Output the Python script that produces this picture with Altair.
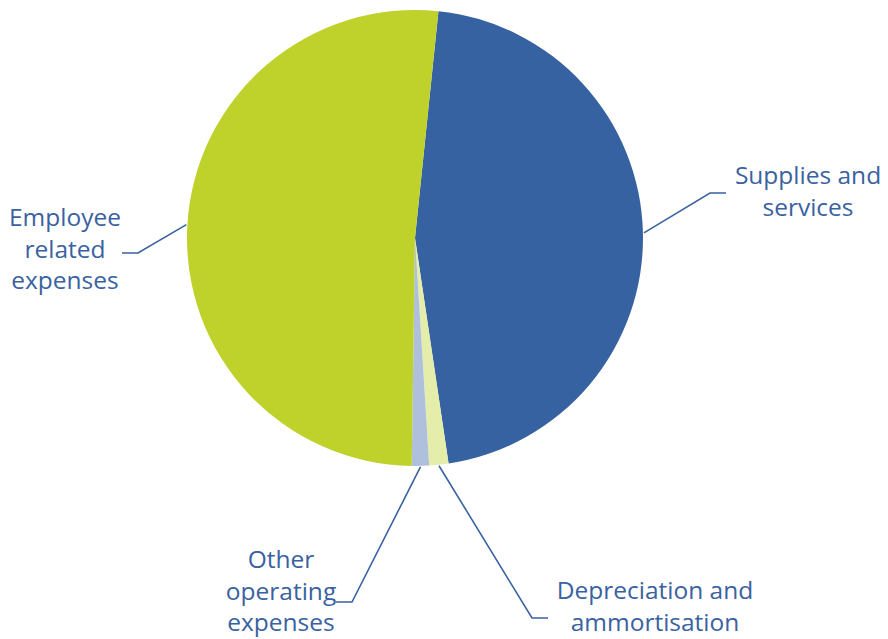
import math
import altair as alt
import pandas as pd

# ---- data ----
categories = ["Supplies and services", "Depreciation and ammortisation",
              "Other operating expenses", "Employee related expenses"]
values = [46.0, 1.36, 1.22, 51.4]
colors = ["#3762A1", "#E5EDAB", "#AEC0DB", "#BFD12B"]
label_lines = ["Supplies and\nservices", "Depreciation and\nammortisation",
               "Other\noperating\nexpenses", "Employee\nrelated\nexpenses"]

# ---- layout (pixels inside the view; label y = first line) ----
CX, CY, R = 407, 230, 228
START_DEG = 5.9
label_pos = [(800, 169), (647, 584), (273, 553), (57, 211)]
elbows = [(702, 185), (524, 610), (344, 594), (130, 245)]
ends = [(718, 185), (540, 610), (328, 594), (114, 245)]

slices = pd.DataFrame({"category": categories, "value": values,
                       "order": list(range(len(categories)))})

total = sum(values)
a0 = math.radians(START_DEG)

# leader lines: start at slice mid-angle on the rim
rows = []
cum = 0.0
for i, v in enumerate(values):
    mid = a0 + 2 * math.pi * (cum + v / 2) / total
    cum += v
    sx = CX + (R + 1) * math.sin(mid)
    sy = CY - (R + 1) * math.cos(mid)
    pts = [(sx, sy), elbows[i], ends[i]]
    for j, (px, py) in enumerate(pts):
        rows.append({"category": categories[i], "seq": j, "px": px, "py": py})
leaders = pd.DataFrame(rows)

labels = pd.DataFrame({"category": categories, "text": label_lines,
                       "lx": [p[0] for p in label_pos],
                       "ly": [p[1] for p in label_pos]})

pie = alt.Chart(slices).mark_arc(outerRadius=R).encode(
    theta=alt.Theta("value:Q", stack=True,
                    scale=alt.Scale(range=[a0, a0 + 2 * math.pi])),
    color=alt.Color("category:N", scale=alt.Scale(domain=categories, range=colors),
                    legend=None),
    order=alt.Order("order:Q"),
    x=alt.value(CX),
    y=alt.value(CY),
)

lines = alt.Chart(leaders).mark_line(color="#3A62A0", strokeWidth=1.6).encode(
    x=alt.X("px:Q", scale=None),
    y=alt.Y("py:Q", scale=None),
    detail="category:N",
    order="seq:Q",
)

text = alt.Chart(labels).mark_text(
    font="Open Sans", fontSize=24.5, color="#3A62A0", align="center",
    baseline="middle", lineBreak="\n", lineHeight=31.5,
).encode(
    x=alt.X("lx:Q", scale=None),
    y=alt.Y("ly:Q", scale=None),
    text="text:N",
)

chart = alt.layer(pie, lines, text).properties(
    width=872, height=631, padding=0,
    autosize=alt.AutoSizeParams(type="none"),
).configure_view(stroke=None)

chart.save("out.html", embed_options={"renderer": "svg", "actions": False})
